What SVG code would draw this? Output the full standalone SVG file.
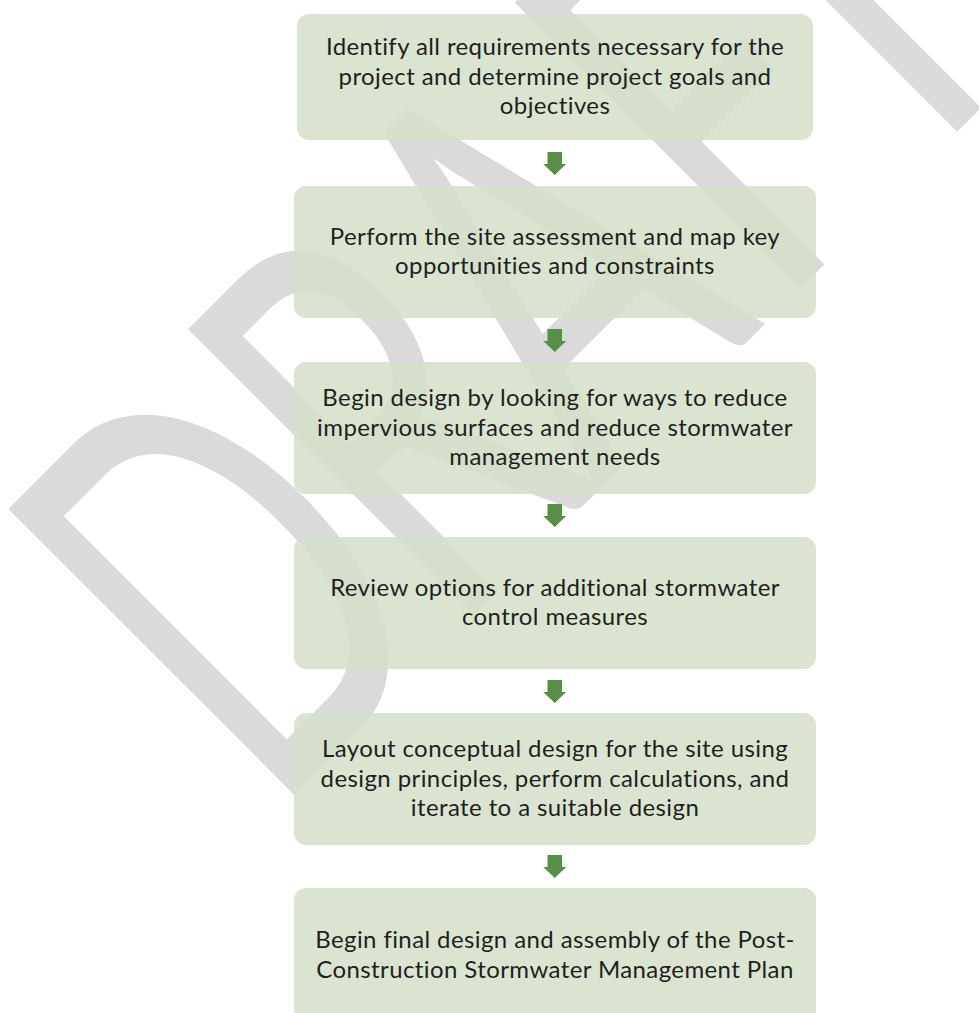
<svg xmlns="http://www.w3.org/2000/svg" width="979" height="1013" viewBox="0 0 979 1013">
<style>
.box{fill:#d6e0ca;fill-opacity:0.87}
.t{font-family:Lato,"Liberation Sans",sans-serif;font-size:24px;letter-spacing:0.4px;fill:#1f1f1f;text-anchor:middle;font-variant-ligatures:none}
.wm{font-family:Lato,"Liberation Sans",sans-serif;font-size:1000px;fill:#dadada;font-variant-ligatures:none}
.arr{fill:#578e48}
</style>
<defs>
<path id="arrow" d="M-7.25,0 H7.25 V12 H11.5 L0,23 L-11.5,12 H-7.25 Z"/>
</defs>
<rect width="979" height="1013" fill="#ffffff"/>
<g id="watermark">
<text class="wm" transform="matrix(0.2475,-0.2475,0.3988,0.3988,271.5,817.4)" x="0 726 1320 2046 2523" y="0">DRAFT</text>
</g>
<g id="node1">
<rect class="box" x="297" y="14" width="516" height="126" rx="12"/>
<text class="t" x="555" y="55">Identify all requirements necessary for the</text>
<text class="t" x="555" y="84.5">project and determine project goals and</text>
<text class="t" x="555" y="114">objectives</text>
</g>
<g id="node2">
<rect class="box" x="294" y="186" width="522" height="132" rx="12"/>
<text class="t" x="555" y="244.5">Perform the site assessment and map key</text>
<text class="t" x="555" y="274">opportunities and constraints</text>
</g>
<g id="node3">
<rect class="box" x="294" y="362" width="522" height="132" rx="12"/>
<text class="t" x="555" y="406">Begin design by looking for ways to reduce</text>
<text class="t" x="555" y="435.5">impervious surfaces and reduce stormwater</text>
<text class="t" x="555" y="465">management needs</text>
</g>
<g id="node4">
<rect class="box" x="294" y="537" width="522" height="132" rx="12"/>
<text class="t" x="555" y="595.5">Review options for additional stormwater</text>
<text class="t" x="555" y="625">control measures</text>
</g>
<g id="node5">
<rect class="box" x="294" y="713" width="522" height="132" rx="12"/>
<text class="t" x="555" y="757">Layout conceptual design for the site using</text>
<text class="t" x="555" y="786.5">design principles, perform calculations, and</text>
<text class="t" x="555" y="816">iterate to a suitable design</text>
</g>
<g id="node6">
<rect class="box" x="294" y="888" width="522" height="134" rx="12"/>
<text class="t" x="555" y="948">Begin final design and assembly of the Post-</text>
<text class="t" x="555" y="977.5">Construction Stormwater Management Plan</text>
</g>
<g id="connectors">
<use href="#arrow" class="arr" x="554.75" y="152"/>
<use href="#arrow" class="arr" x="554.75" y="329"/>
<use href="#arrow" class="arr" x="554.75" y="504"/>
<use href="#arrow" class="arr" x="554.75" y="680"/>
<use href="#arrow" class="arr" x="554.75" y="855"/>
</g>
</svg>
